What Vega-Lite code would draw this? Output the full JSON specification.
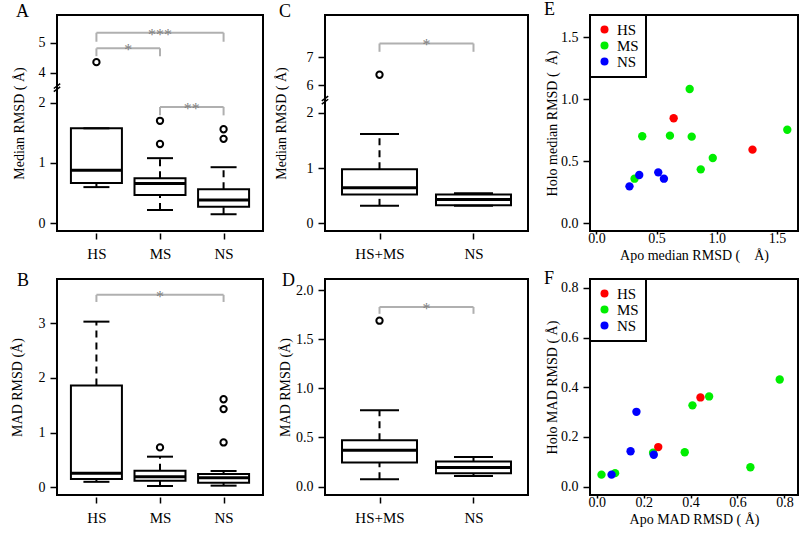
{
"$schema": "https://vega.github.io/schema/vega-lite/v6.json",
"padding": {"left": 9, "top": 0, "right": 0, "bottom": 0},
"background": "white",
"columns": 3,
"spacing": {"row": 48, "column": 62},
"bounds": "flush",
"align": "each",
"resolve": {"scale": {"color": "independent"}, "legend": {"color": "independent"}},
"datasets": {
"Abox": [
 {"group":"HS","g":1,"lo":0.60,"q1":0.67,"med":0.88,"q3":1.575,"hi":1.575},
 {"group":"MS","g":2,"lo":0.22,"q1":0.47,"med":0.66,"q3":0.746,"hi":1.08},
 {"group":"NS","g":3,"lo":0.15,"q1":0.275,"med":0.386,"q3":0.564,"hi":0.93}],
"Aout": [{"group":"HS","g":1,"v":4.35},{"group":"MS","g":2,"v":1.70},{"group":"MS","g":2,"v":1.315},{"group":"NS","g":3,"v":1.56},{"group":"NS","g":3,"v":1.40}],
"Abr": [{"b":"***","g":1,"top":5.33,"end":5.03},{"b":"***","g":3,"top":5.33,"end":5.03},{"b":"*","g":1,"top":4.81,"end":4.55},{"b":"*","g":2,"top":4.81,"end":4.55},{"b":"**","g":2,"top":1.93,"end":1.79},{"b":"**","g":3,"top":1.93,"end":1.79}],
"Abrk": [{"b":3}],
"Bbox": [
 {"group":"HS","g":1,"lo":0.10,"q1":0.152,"med":0.256,"q3":1.86,"hi":3.03},
 {"group":"MS","g":2,"lo":0.024,"q1":0.121,"med":0.194,"q3":0.304,"hi":0.56},
 {"group":"NS","g":3,"lo":0.03,"q1":0.084,"med":0.176,"q3":0.243,"hi":0.298}],
"Bout": [{"group":"MS","g":2,"v":0.73},{"group":"NS","g":3,"v":1.61},{"group":"NS","g":3,"v":1.43},{"group":"NS","g":3,"v":0.82}],
"Bbr": [{"b":"*","g":1,"top":3.52,"end":3.39},{"b":"*","g":3,"top":3.52,"end":3.39}],
"Cbox": [
 {"group":"HS+MS","g":1,"lo":0.318,"q1":0.524,"med":0.644,"q3":0.98,"hi":1.615},
 {"group":"NS","g":2,"lo":0.32,"q1":0.331,"med":0.434,"q3":0.524,"hi":0.545}],
"Cout": [{"group":"HS+MS","g":1,"v":6.37}],
"Cbr": [{"b":"*","g":1,"top":7.5,"end":7.2},{"b":"*","g":2,"top":7.5,"end":7.2}],
"Cbrk": [{"b":3.83}],
"Dbox": [
 {"group":"HS+MS","g":1,"lo":0.074,"q1":0.245,"med":0.37,"q3":0.472,"hi":0.778},
 {"group":"NS","g":2,"lo":0.108,"q1":0.136,"med":0.194,"q3":0.255,"hi":0.30}],
"Dout": [{"group":"HS+MS","g":1,"v":1.69}],
"Dbr": [{"b":"*","g":1,"top":1.83,"end":1.76},{"b":"*","g":2,"top":1.83,"end":1.76}],
"E": [
 {"cls":"MS","apo":0.775,"holo":1.083},{"cls":"MS","apo":0.381,"holo":0.702},{"cls":"MS","apo":0.611,"holo":0.707},{"cls":"MS","apo":0.792,"holo":0.699},
 {"cls":"MS","apo":1.586,"holo":0.755},{"cls":"MS","apo":0.967,"holo":0.527},{"cls":"MS","apo":0.867,"holo":0.435},{"cls":"MS","apo":0.317,"holo":0.360},
 {"cls":"HS","apo":0.642,"holo":0.847},{"cls":"HS","apo":1.297,"holo":0.594},
 {"cls":"NS","apo":0.275,"holo":0.298},{"cls":"NS","apo":0.356,"holo":0.390},{"cls":"NS","apo":0.514,"holo":0.411},{"cls":"NS","apo":0.561,"holo":0.360}],
"F": [
 {"cls":"MS","apo":0.780,"holo":0.431},{"cls":"MS","apo":0.479,"holo":0.363},{"cls":"MS","apo":0.408,"holo":0.327},{"cls":"MS","apo":0.375,"holo":0.138},
 {"cls":"MS","apo":0.655,"holo":0.078},{"cls":"MS","apo":0.240,"holo":0.136},{"cls":"MS","apo":0.020,"holo":0.048},{"cls":"MS","apo":0.078,"holo":0.054},
 {"cls":"HS","apo":0.442,"holo":0.359},{"cls":"HS","apo":0.262,"holo":0.159},
 {"cls":"NS","apo":0.169,"holo":0.301},{"cls":"NS","apo":0.144,"holo":0.142},{"cls":"NS","apo":0.243,"holo":0.128},{"cls":"NS","apo":0.063,"holo":0.048}]
},
"concat": [
{
 "width": 206, "height": 216,
 "title": {"text": "A", "dx": -41, "offset": -6},
 "layer": [
  {"data":{"name":"Abox"},"mark":{"type":"bar","width":51,"fill":"white","stroke":"black","strokeWidth":2},
   "encoding":{"x":{"field":"g","type":"quantitative","scale":{"domain":[0.38,3.62],"nice":false,"zero":false,"padding":0},
     "axis":{"values":[1,2,3],"labelExpr":"datum.value == 1 ? 'HS' : datum.value == 2 ? 'MS' : 'NS'","title":null,"offset":2,"tickSize":6,"labelPadding":7,"labelFontSize":15}},
    "y":{"field":"q1","type":"quantitative","scale":{"type":"linear","domain":[-0.128,2,4,5.92],"range":[216,87.7,57.7,0],"nice":false,"zero":false},
     "axis":{"values":[0,1,2,4,5],"format":"d","title":"Median RMSD ( Å)","titleX":-38,"titleBaseline":"middle","tickSize":7,"labelPadding":5}},"y2":{"field":"q3"}}},
  {"data":{"name":"Abox"},"mark":{"type":"rule","strokeDash":[7,5],"strokeWidth":2,"color":"black"},
   "encoding":{"x":{"field":"g","type":"quantitative"},"y":{"field":"lo","type":"quantitative"},"y2":{"field":"q1"}}},
  {"data":{"name":"Abox"},"mark":{"type":"rule","strokeDash":[7,5],"strokeWidth":2,"color":"black"},
   "encoding":{"x":{"field":"g","type":"quantitative"},"y":{"field":"q3","type":"quantitative"},"y2":{"field":"hi"}}},
  {"data":{"name":"Abox"},"mark":{"type":"tick","orient":"horizontal","size":26,"thickness":2,"color":"black","opacity":1},
   "encoding":{"x":{"field":"g","type":"quantitative"},"y":{"field":"lo","type":"quantitative"}}},
  {"data":{"name":"Abox"},"mark":{"type":"tick","orient":"horizontal","size":26,"thickness":2,"color":"black","opacity":1},
   "encoding":{"x":{"field":"g","type":"quantitative"},"y":{"field":"hi","type":"quantitative"}}},
  {"data":{"name":"Abox"},"mark":{"type":"tick","orient":"horizontal","size":51,"thickness":3,"color":"black","opacity":1},
   "encoding":{"x":{"field":"g","type":"quantitative"},"y":{"field":"med","type":"quantitative"}}},
  {"data":{"name":"Aout"},"mark":{"type":"point","shape":"circle","filled":false,"color":"black","strokeWidth":2,"size":40,"opacity":1},
   "encoding":{"x":{"field":"g","type":"quantitative"},"y":{"field":"v","type":"quantitative"}}},
  {"data":{"name":"Abr"},"mark":{"type":"rule","color":"#b0b0b0","strokeWidth":2},
   "encoding":{"x":{"field":"g","type":"quantitative"},"y":{"field":"top","type":"quantitative"},"y2":{"field":"end"}}},
  {"data":{"name":"Abr"},"mark":{"type":"rule","color":"#b0b0b0","strokeWidth":2},
   "encoding":{"x":{"aggregate":"min","field":"g","type":"quantitative"},"x2":{"aggregate":"max","field":"g"},"y":{"field":"top","type":"quantitative"},"detail":{"field":"b","type":"nominal"}}},
  {"data":{"name":"Abr"},"mark":{"type":"text","color":"#808080","fontSize":16,"baseline":"alphabetic","dy":7},
   "encoding":{"x":{"aggregate":"mean","field":"g","type":"quantitative"},"y":{"field":"top","type":"quantitative"},"text":{"field":"b"}}},
  {"data":{"name":"Abrk"},"mark":{"type":"point","shape":"M-0.8,0.2L0.8,-1M-0.8,1L0.8,-0.2","filled":false,"color":"black","strokeWidth":1.5,"size":64,"opacity":1},
   "encoding":{"x":{"datum":0.38,"type":"quantitative"},"y":{"field":"b","type":"quantitative"}}}
 ]
},
{
 "width": 203, "height": 216,
 "title": {"text": "C", "dx": -46, "offset": -6},
 "layer": [
  {"data":{"name":"Cbox"},"mark":{"type":"bar","width":75,"fill":"white","stroke":"black","strokeWidth":2},
   "encoding":{"x":{"field":"g","type":"quantitative","scale":{"domain":[0.42,2.58],"nice":false,"zero":false,"padding":0},
     "axis":{"values":[1,2],"labelExpr":"datum.value == 1 ? 'HS+MS' : 'NS'","title":null,"offset":2,"tickSize":6,"labelPadding":7,"labelFontSize":15}},
    "y":{"field":"q1","type":"quantitative","scale":{"type":"linear","domain":[-0.136,2,6,8.53],"range":[216,97.7,70,0],"nice":false,"zero":false},
     "axis":{"values":[0,1,2,6,7],"format":"d","title":"Median RMSD ( Å)","titleX":-44,"titleBaseline":"middle","tickSize":7,"labelPadding":5}},"y2":{"field":"q3"}}},
  {"data":{"name":"Cbox"},"mark":{"type":"rule","strokeDash":[7,5],"strokeWidth":2,"color":"black"},
   "encoding":{"x":{"field":"g","type":"quantitative"},"y":{"field":"lo","type":"quantitative"},"y2":{"field":"q1"}}},
  {"data":{"name":"Cbox"},"mark":{"type":"rule","strokeDash":[7,5],"strokeWidth":2,"color":"black"},
   "encoding":{"x":{"field":"g","type":"quantitative"},"y":{"field":"q3","type":"quantitative"},"y2":{"field":"hi"}}},
  {"data":{"name":"Cbox"},"mark":{"type":"tick","orient":"horizontal","size":39,"thickness":2,"color":"black","opacity":1},
   "encoding":{"x":{"field":"g","type":"quantitative"},"y":{"field":"lo","type":"quantitative"}}},
  {"data":{"name":"Cbox"},"mark":{"type":"tick","orient":"horizontal","size":39,"thickness":2,"color":"black","opacity":1},
   "encoding":{"x":{"field":"g","type":"quantitative"},"y":{"field":"hi","type":"quantitative"}}},
  {"data":{"name":"Cbox"},"mark":{"type":"tick","orient":"horizontal","size":75,"thickness":3,"color":"black","opacity":1},
   "encoding":{"x":{"field":"g","type":"quantitative"},"y":{"field":"med","type":"quantitative"}}},
  {"data":{"name":"Cout"},"mark":{"type":"point","shape":"circle","filled":false,"color":"black","strokeWidth":2,"size":40,"opacity":1},
   "encoding":{"x":{"field":"g","type":"quantitative"},"y":{"field":"v","type":"quantitative"}}},
  {"data":{"name":"Cbr"},"mark":{"type":"rule","color":"#b0b0b0","strokeWidth":2},
   "encoding":{"x":{"field":"g","type":"quantitative"},"y":{"field":"top","type":"quantitative"},"y2":{"field":"end"}}},
  {"data":{"name":"Cbr"},"mark":{"type":"rule","color":"#b0b0b0","strokeWidth":2},
   "encoding":{"x":{"aggregate":"min","field":"g","type":"quantitative"},"x2":{"aggregate":"max","field":"g"},"y":{"field":"top","type":"quantitative"},"detail":{"field":"b","type":"nominal"}}},
  {"data":{"name":"Cbr"},"mark":{"type":"text","color":"#808080","fontSize":16,"baseline":"alphabetic","dy":7},
   "encoding":{"x":{"aggregate":"mean","field":"g","type":"quantitative"},"y":{"field":"top","type":"quantitative"},"text":{"field":"b"}}},
  {"data":{"name":"Cbrk"},"mark":{"type":"point","shape":"M-0.8,0.2L0.8,-1M-0.8,1L0.8,-0.2","filled":false,"color":"black","strokeWidth":1.5,"size":64,"opacity":1},
   "encoding":{"x":{"datum":0.42,"type":"quantitative"},"y":{"field":"b","type":"quantitative"}}}
 ]
},
{
 "width": 208, "height": 216,
 "title": {"text": "E", "dx": -46, "offset": -5},
 "data": {"name": "E"},
 "mark": {"type":"point","shape":"circle","filled":true,"size":70,"opacity":1},
 "encoding": {
  "x": {"field":"apo","type":"quantitative","scale":{"domain":[-0.053,1.675],"nice":false,"zero":false},
   "axis":{"values":[0,0.5,1,1.5],"format":".1f","title":"Apo median RMSD (\u00a0\u00a0\u00a0\u00a0Å)","tickSize":3,"labelPadding":-3,"titleY":24,"titleBaseline":"middle"}},
  "y": {"field":"holo","type":"quantitative","scale":{"domain":[-0.062,1.68],"nice":false,"zero":false},
   "axis":{"values":[0,0.5,1,1.5],"format":".1f","title":"Holo median RMSD (\u00a0\u00a0Å)","titleX":-38,"titleBaseline":"middle","tickSize":7,"labelPadding":5}},
  "color": {"field":"cls","type":"nominal","scale":{"domain":["HS","MS","NS"],"range":["#ff0000","#00ee00","#0000ff"]},
   "legend":{"title":null,"orient":"top-left","offset":0,"padding":7,"fillColor":"white","strokeColor":"black","symbolSize":64,"symbolType":"circle","labelFontSize":15,"rowPadding":0,"labelOffset":5,"symbolStrokeWidth":0}}
 }
},
{
 "width": 206, "height": 216,
 "title": {"text": "B", "dx": -40, "offset": -11},
 "layer": [
  {"data":{"name":"Bbox"},"mark":{"type":"bar","width":51,"fill":"white","stroke":"black","strokeWidth":2},
   "encoding":{"x":{"field":"g","type":"quantitative","scale":{"domain":[0.38,3.62],"nice":false,"zero":false,"padding":0},
     "axis":{"values":[1,2,3],"labelExpr":"datum.value == 1 ? 'HS' : datum.value == 2 ? 'MS' : 'NS'","title":null,"offset":2,"tickSize":6,"labelPadding":7,"labelFontSize":15}},
    "y":{"field":"q1","type":"quantitative","scale":{"domain":[-0.141,3.81],"nice":false,"zero":false},
     "axis":{"values":[0,1,2,3],"format":"d","title":"MAD RMSD (Å)","titleX":-40,"titleBaseline":"middle","tickSize":7,"labelPadding":5}},"y2":{"field":"q3"}}},
  {"data":{"name":"Bbox"},"mark":{"type":"rule","strokeDash":[7,5],"strokeWidth":2,"color":"black"},
   "encoding":{"x":{"field":"g","type":"quantitative"},"y":{"field":"lo","type":"quantitative"},"y2":{"field":"q1"}}},
  {"data":{"name":"Bbox"},"mark":{"type":"rule","strokeDash":[7,5],"strokeWidth":2,"color":"black"},
   "encoding":{"x":{"field":"g","type":"quantitative"},"y":{"field":"q3","type":"quantitative"},"y2":{"field":"hi"}}},
  {"data":{"name":"Bbox"},"mark":{"type":"tick","orient":"horizontal","size":26,"thickness":2,"color":"black","opacity":1},
   "encoding":{"x":{"field":"g","type":"quantitative"},"y":{"field":"lo","type":"quantitative"}}},
  {"data":{"name":"Bbox"},"mark":{"type":"tick","orient":"horizontal","size":26,"thickness":2,"color":"black","opacity":1},
   "encoding":{"x":{"field":"g","type":"quantitative"},"y":{"field":"hi","type":"quantitative"}}},
  {"data":{"name":"Bbox"},"mark":{"type":"tick","orient":"horizontal","size":51,"thickness":3,"color":"black","opacity":1},
   "encoding":{"x":{"field":"g","type":"quantitative"},"y":{"field":"med","type":"quantitative"}}},
  {"data":{"name":"Bout"},"mark":{"type":"point","shape":"circle","filled":false,"color":"black","strokeWidth":2,"size":40,"opacity":1},
   "encoding":{"x":{"field":"g","type":"quantitative"},"y":{"field":"v","type":"quantitative"}}},
  {"data":{"name":"Bbr"},"mark":{"type":"rule","color":"#b0b0b0","strokeWidth":2},
   "encoding":{"x":{"field":"g","type":"quantitative"},"y":{"field":"top","type":"quantitative"},"y2":{"field":"end"}}},
  {"data":{"name":"Bbr"},"mark":{"type":"rule","color":"#b0b0b0","strokeWidth":2},
   "encoding":{"x":{"aggregate":"min","field":"g","type":"quantitative"},"x2":{"aggregate":"max","field":"g"},"y":{"field":"top","type":"quantitative"},"detail":{"field":"b","type":"nominal"}}},
  {"data":{"name":"Bbr"},"mark":{"type":"text","color":"#808080","fontSize":16,"baseline":"alphabetic","dy":7},
   "encoding":{"x":{"aggregate":"mean","field":"g","type":"quantitative"},"y":{"field":"top","type":"quantitative"},"text":{"field":"b"}}}
 ]
},
{
 "width": 203, "height": 216,
 "title": {"text": "D", "dx": -43, "offset": -11},
 "layer": [
  {"data":{"name":"Dbox"},"mark":{"type":"bar","width":75,"fill":"white","stroke":"black","strokeWidth":2},
   "encoding":{"x":{"field":"g","type":"quantitative","scale":{"domain":[0.42,2.58],"nice":false,"zero":false,"padding":0},
     "axis":{"values":[1,2],"labelExpr":"datum.value == 1 ? 'HS+MS' : 'NS'","title":null,"offset":2,"tickSize":6,"labelPadding":7,"labelFontSize":15}},
    "y":{"field":"q1","type":"quantitative","scale":{"domain":[-0.086,2.115],"nice":false,"zero":false},
     "axis":{"values":[0,0.5,1,1.5,2],"format":".1f","title":"MAD RMSD (Å)","titleX":-40,"titleBaseline":"middle","tickSize":7,"labelPadding":5}},"y2":{"field":"q3"}}},
  {"data":{"name":"Dbox"},"mark":{"type":"rule","strokeDash":[7,5],"strokeWidth":2,"color":"black"},
   "encoding":{"x":{"field":"g","type":"quantitative"},"y":{"field":"lo","type":"quantitative"},"y2":{"field":"q1"}}},
  {"data":{"name":"Dbox"},"mark":{"type":"rule","strokeDash":[7,5],"strokeWidth":2,"color":"black"},
   "encoding":{"x":{"field":"g","type":"quantitative"},"y":{"field":"q3","type":"quantitative"},"y2":{"field":"hi"}}},
  {"data":{"name":"Dbox"},"mark":{"type":"tick","orient":"horizontal","size":39,"thickness":2,"color":"black","opacity":1},
   "encoding":{"x":{"field":"g","type":"quantitative"},"y":{"field":"lo","type":"quantitative"}}},
  {"data":{"name":"Dbox"},"mark":{"type":"tick","orient":"horizontal","size":39,"thickness":2,"color":"black","opacity":1},
   "encoding":{"x":{"field":"g","type":"quantitative"},"y":{"field":"hi","type":"quantitative"}}},
  {"data":{"name":"Dbox"},"mark":{"type":"tick","orient":"horizontal","size":75,"thickness":3,"color":"black","opacity":1},
   "encoding":{"x":{"field":"g","type":"quantitative"},"y":{"field":"med","type":"quantitative"}}},
  {"data":{"name":"Dout"},"mark":{"type":"point","shape":"circle","filled":false,"color":"black","strokeWidth":2,"size":40,"opacity":1},
   "encoding":{"x":{"field":"g","type":"quantitative"},"y":{"field":"v","type":"quantitative"}}},
  {"data":{"name":"Dbr"},"mark":{"type":"rule","color":"#b0b0b0","strokeWidth":2},
   "encoding":{"x":{"field":"g","type":"quantitative"},"y":{"field":"top","type":"quantitative"},"y2":{"field":"end"}}},
  {"data":{"name":"Dbr"},"mark":{"type":"rule","color":"#b0b0b0","strokeWidth":2},
   "encoding":{"x":{"aggregate":"min","field":"g","type":"quantitative"},"x2":{"aggregate":"max","field":"g"},"y":{"field":"top","type":"quantitative"},"detail":{"field":"b","type":"nominal"}}},
  {"data":{"name":"Dbr"},"mark":{"type":"text","color":"#808080","fontSize":16,"baseline":"alphabetic","dy":7},
   "encoding":{"x":{"aggregate":"mean","field":"g","type":"quantitative"},"y":{"field":"top","type":"quantitative"},"text":{"field":"b"}}}
 ]
},
{
 "width": 208, "height": 216,
 "title": {"text": "F", "dx": -46, "offset": -10},
 "data": {"name": "F"},
 "mark": {"type":"point","shape":"circle","filled":true,"size":70,"opacity":1},
 "encoding": {
  "x": {"field":"apo","type":"quantitative","scale":{"domain":[-0.029,0.858],"nice":false,"zero":false},
   "axis":{"values":[0,0.2,0.4,0.6,0.8],"format":".1f","title":"Apo MAD RMSD ( Å)","tickSize":3,"labelPadding":-3,"titleY":24,"titleBaseline":"middle"}},
  "y": {"field":"holo","type":"quantitative","scale":{"domain":[-0.034,0.836],"nice":false,"zero":false},
   "axis":{"values":[0,0.2,0.4,0.6,0.8],"format":".1f","title":"Holo MAD RMSD ( Å)","titleX":-38,"titleBaseline":"middle","tickSize":7,"labelPadding":5}},
  "color": {"field":"cls","type":"nominal","scale":{"domain":["HS","MS","NS"],"range":["#ff0000","#00ee00","#0000ff"]},
   "legend":{"title":null,"orient":"top-left","offset":0,"padding":7,"fillColor":"white","strokeColor":"black","symbolSize":64,"symbolType":"circle","labelFontSize":15,"rowPadding":0,"labelOffset":5,"symbolStrokeWidth":0}}
 }
}
],
"config": {
 "font": "Liberation Serif",
 "view": {"stroke": "black", "strokeWidth": 2},
 "title": {"anchor": "start", "frame": "group", "fontSize": 18, "font": "Liberation Serif", "fontWeight": "normal", "color": "black", "baseline": "alphabetic"},
 "axis": {"domain": false, "grid": false, "tickColor": "black", "tickWidth": 1.5, "labelColor": "black", "labelFont": "Liberation Serif", "labelFontSize": 14, "titleFont": "Liberation Serif", "titleFontSize": 14, "titleFontWeight": "normal", "titleColor": "black", "labelFlush": false, "labelOverlap": false, "labelBound": false},
 "legend": {"labelFont": "Liberation Serif", "labelColor": "black", "strokeWidth": 2},
 "text": {"font": "Liberation Serif"}
}
}
